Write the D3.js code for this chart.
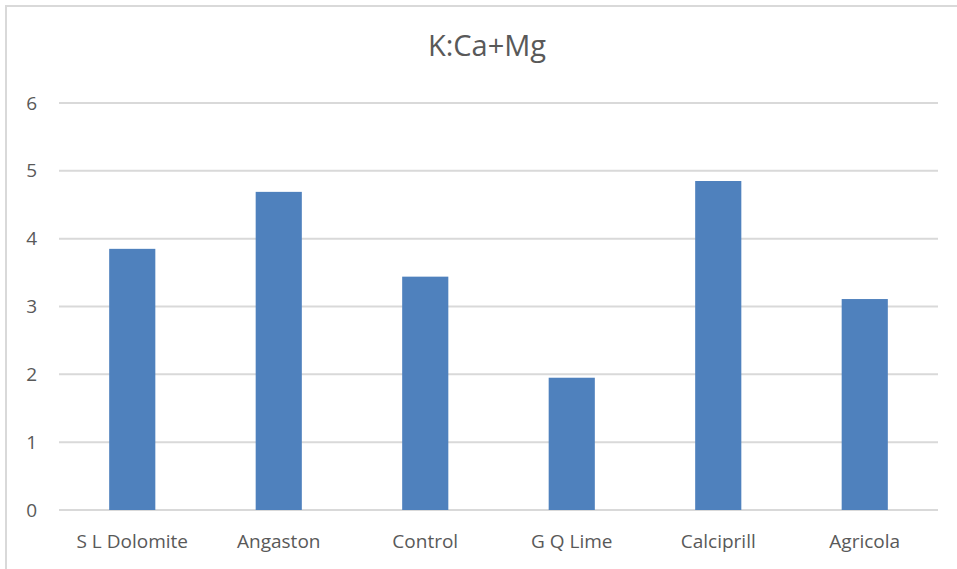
<!DOCTYPE html>
<html>
<head>
<meta charset="utf-8">
<script src="https://cdn.jsdelivr.net/npm/d3@7"></script>
<style>
  body { margin: 0; background: #fff; }
  text { font-family: "Open Sans", "Liberation Sans", sans-serif; fill: #595959; }
</style>
</head>
<body>
<script>
// chart values
var categories = ["S L Dolomite", "Angaston", "Control", "G Q Lime", "Calciprill", "Agricola"];
var values = [3.85, 4.69, 3.44, 1.95, 4.85, 3.11];
var yTicks = [0, 1, 2, 3, 4, 5, 6];
var title = "K:Ca+Mg";

var width = 957, height = 569;
var margin = {top: 103, right: 19, bottom: 59, left: 59};

var svg = d3.select("body").append("svg")
    .attr("width", width)
    .attr("height", height);

// chart border (only top and left visible in the crop)
svg.append("rect")
    .attr("x", 6).attr("y", 6)
    .attr("width", width + 10).attr("height", height + 10)
    .style("fill", "none")
    .style("stroke", "#d9d9d9")
    .style("stroke-width", 2);

var x = d3.scaleBand()
    .domain(categories)
    .range([margin.left, width - margin.right])
    .paddingInner(0.685)
    .paddingOuter(0.3425);

var y = d3.scaleLinear()
    .domain([0, 6])
    .range([height - margin.bottom, margin.top]);

// gridlines
svg.selectAll(".grid")
    .data(yTicks)
    .enter()
    .append("line")
    .attr("class", "grid")
    .attr("x1", margin.left)
    .attr("x2", width - margin.right)
    .attr("y1", function(d) { return y(d); })
    .attr("y2", function(d) { return y(d); })
    .style("stroke", "#d9d9d9")
    .style("stroke-width", 2);

// y tick labels
svg.selectAll(".ylab")
    .data(yTicks)
    .enter()
    .append("text")
    .attr("class", "ylab")
    .attr("x", 37)
    .attr("y", function(d) { return y(d); })
    .attr("dy", "0.35em")
    .attr("text-anchor", "end")
    .style("font-size", "19px")
    .text(function(d) { return d; });

// bars
svg.selectAll(".bar")
    .data(values)
    .enter()
    .append("rect")
    .attr("class", "bar")
    .attr("x", function(d, i) { return x(categories[i]); })
    .attr("width", x.bandwidth())
    .attr("y", function(d) { return y(d); })
    .attr("height", function(d) { return y(0) - y(d); })
    .style("fill", "#4f81bd");

// x labels
svg.selectAll(".xlab")
    .data(categories)
    .enter()
    .append("text")
    .attr("class", "xlab")
    .attr("x", function(d) { return x(d) + x.bandwidth() / 2; })
    .attr("y", 548)
    .attr("text-anchor", "middle")
    .style("font-size", "19px")
    .text(function(d) { return d; });

svg.append("text")
    .attr("x", 487)
    .attr("y", 56)
    .attr("text-anchor", "middle")
    .style("font-size", "29px")
    .text(title);
</script>
</body>
</html>
